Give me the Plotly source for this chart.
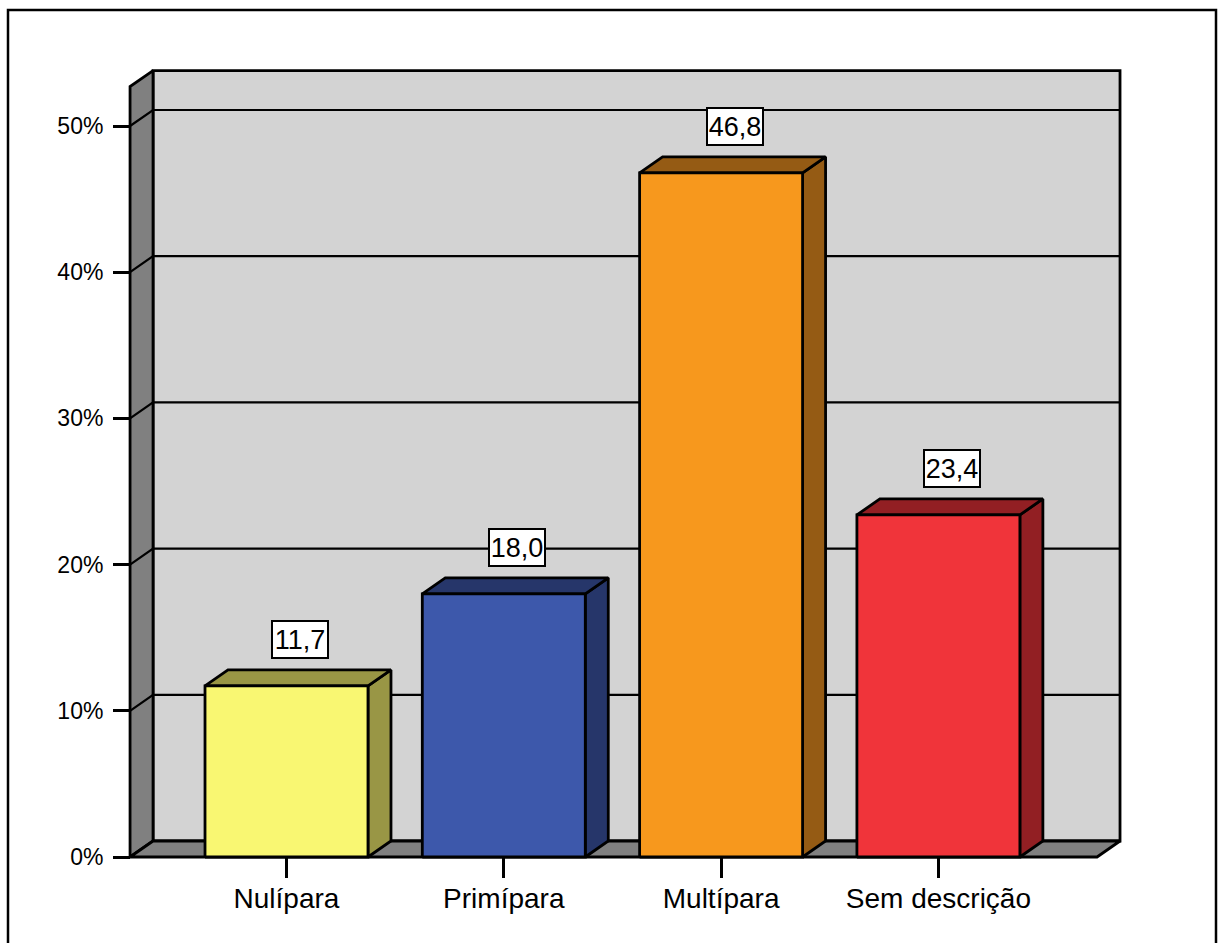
import plotly.graph_objects as go

# Dados
categorias = ["Nulípara", "Primípara", "Multípara", "Sem descrição"]
percentuais = [11.7, 18.0, 46.8, 23.4]
rotulos = ["11,7", "18,0", "46,8", "23,4"]
cores_frente = ["#F9F772", "#3D58AB", "#F7981D", "#F0343A"]
cores_lado = ["#999645", "#26366A", "#955B14", "#921F23"]
marcas_y = [0, 10, 20, 30, 40, 50]
rotulos_y = ["0%", "10%", "20%", "30%", "40%", "50%"]

# Geometria da pseudo-perspectiva (unidades dos eixos)
LARG = 0.75          # largura da coluna, em unidades de categoria
DX, DY = 0.1058, 1.094   # deslocamento de profundidade (x em categorias, y em %)
X0, X1 = -0.72, 3.73     # limites do piso frontal
TOPO = 52.7              # altura das paredes
COR_PAREDE = "#D3D3D3"
COR_LATERAL = "#808080"
FONTE = "Liberation Sans, Arial, sans-serif"

fig = go.Figure()


def poligono(xs, ys, cor, esp=2.8):
    fig.add_trace(go.Scatter(
        x=list(xs) + [xs[0]], y=list(ys) + [ys[0]],
        mode="lines", fill="toself", fillcolor=cor,
        line=dict(color="black", width=esp),
        hoverinfo="skip", showlegend=False))


def linhas(xs, ys, esp=2.2):
    fig.add_trace(go.Scatter(
        x=xs, y=ys, mode="lines",
        line=dict(color="black", width=esp),
        hoverinfo="skip", showlegend=False))


# Parede do fundo
poligono([X0 + DX, X1 + DX, X1 + DX, X0 + DX],
         [DY, DY, TOPO + DY, TOPO + DY], COR_PAREDE)
# Parede lateral esquerda
poligono([X0, X0 + DX, X0 + DX, X0],
         [0, DY, TOPO + DY, TOPO], COR_LATERAL)
# Piso
poligono([X0, X1, X1 + DX, X0 + DX], [0, 0, DY, DY], COR_LATERAL)

# Linhas de grade (fundo + diagonais da parede lateral)
gx, gy = [], []
for v in marcas_y[1:]:
    gx += [X0, X0 + DX, X1 + DX, None]
    gy += [v, v + DY, v + DY, None]
linhas(gx, gy)

# Colunas 3D
for i, (v, cf, cl) in enumerate(zip(percentuais, cores_frente, cores_lado)):
    esq, dir_ = i - LARG / 2, i + LARG / 2
    # lateral
    poligono([dir_, dir_ + DX, dir_ + DX, dir_], [0, DY, v + DY, v], cl)
    # topo
    poligono([esq, dir_, dir_ + DX, esq + DX], [v, v, v + DY, v + DY], cl)
    # frente
    poligono([esq, dir_, dir_, esq], [0, 0, v, v], cf)

# Rótulos de valor
for i, (v, txt) in enumerate(zip(percentuais, rotulos)):
    fig.add_annotation(
        x=i + DX / 2 + 0.01, y=v + DY + 2.08, xref="x", yref="y",
        text=txt, showarrow=False,
        font=dict(family=FONTE, size=27, color="black"),
        width=54, height=35, align="center", valign="middle",
        bgcolor="white", bordercolor="black", borderwidth=2, borderpad=0,
        xanchor="center", yanchor="middle")

# Moldura externa
fig.add_shape(type="rect", xref="paper", yref="paper",
              x0=8 / 1218, x1=1216 / 1218, y0=-0.05, y1=(943 - 10) / 943,
              line=dict(color="black", width=2.5), fillcolor="rgba(0,0,0,0)")

fig.update_layout(
    width=1218, height=943, autosize=False,
    margin=dict(l=0, r=0, t=0, b=0, pad=0),
    paper_bgcolor="white", plot_bgcolor="white",
    font=dict(family=FONTE, color="black"),
    showlegend=False,
    xaxis=dict(
        range=[-1.31846, 4.28670], domain=[0, 1],
        anchor="free", position=(943 - 857) / 943,
        tickmode="array", tickvals=list(range(len(categorias))), ticktext=categorias,
        ticks="outside", ticklen=20, tickwidth=2.5, tickcolor="black",
        tickfont=dict(size=28), ticklabelstandoff=-4,
        showgrid=False, zeroline=False, showline=False, fixedrange=True),
    yaxis=dict(
        range=[-5.8824, 58.6183], domain=[0, 1],
        anchor="free", position=130 / 1218,
        tickmode="array", tickvals=marcas_y, ticktext=rotulos_y,
        ticks="outside", ticklen=17, tickwidth=2.5, tickcolor="black",
        tickfont=dict(size=23), ticklabelstandoff=5,
        showgrid=False, zeroline=False, showline=False, fixedrange=True),
)

fig.write_html("out.html")
